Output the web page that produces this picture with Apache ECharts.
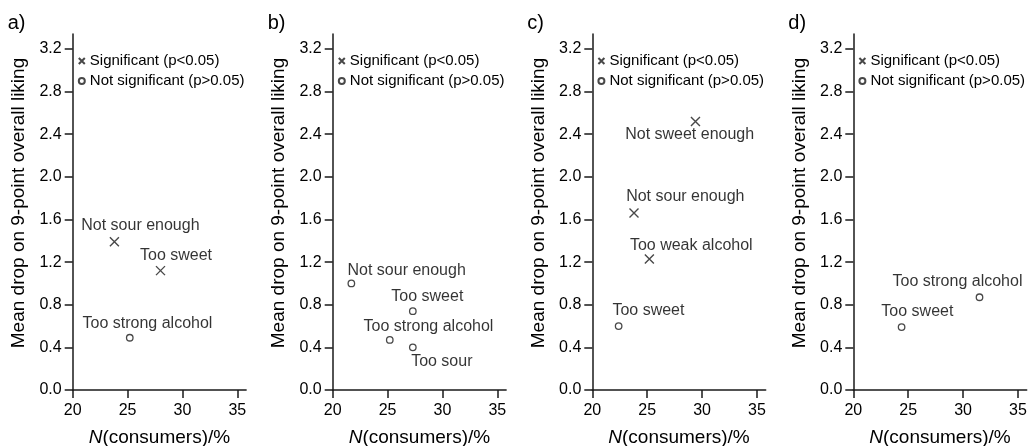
<!DOCTYPE html>
<html>
<head>
<meta charset="utf-8">
<title>Mean drop vs consumers</title>
<script src="https://cdn.jsdelivr.net/npm/echarts@6/dist/echarts.min.js"></script>
<style>
    html,body{margin:0;padding:0;background:#fff;}
    #chart{width:1028px;height:446px;}
</style>
</head>
<body>
<div id="chart"></div>
<script>
// 面板 a)
var aLabels=['Not sour enough','Too sweet','Too strong alcohol'];
var aConsumers=[23.8,28.0,25.2];
var aDrop=[1.39,1.12,0.49];
var aSignificant=[true,true,false];

// 面板 b)
var bLabels=['Not sour enough','Too sweet','Too strong alcohol','Too sour'];
var bConsumers=[21.7,27.3,25.2,27.3];
var bDrop=[1.00,0.74,0.47,0.40];
var bSignificant=[false,false,false,false];

// 面板 c)
var cLabels=['Not sweet enough','Not sour enough','Too weak alcohol','Too sweet'];
var cConsumers=[29.4,23.8,25.2,22.4];
var cDrop=[2.52,1.66,1.23,0.60];
var cSignificant=[true,true,true,false];

// 面板 d)
var dLabels=['Too strong alcohol','Too sweet'];
var dConsumers=[31.5,24.4];
var dDrop=[0.87,0.59];
var dSignificant=[false,false];

var panelTitles=['a)','b)','c)','d)'];
var xTicks=[20,25,30,35];
var yTicks=[0,0.4,0.8,1.2,1.6,2.0,2.4,2.8,3.2];
var sigName='Significant (p<0.05)';
var nsName='Not significant (p>0.05)';

// 标签偏移(px)，只管位置
var labelOffsets=[
    [[26,-16],[15.5,-15],[17.7,-14.4]],
    [[55.3,-12.7],[14.5,-15],[38.7,-13],[29,14.7]],
    [[-5.8,13.3],[51.3,-16],[41.9,-13.6],[29.8,-15.7]],
    [[-22,-15.4],[15.8,-15.7]]
];
var gridLefts=[72.7,332.7,592.3,853.3];

var panels=[
    {labels:aLabels,x:aConsumers,y:aDrop,sig:aSignificant},
    {labels:bLabels,x:bConsumers,y:bDrop,sig:bSignificant},
    {labels:cLabels,x:cConsumers,y:cDrop,sig:cSignificant},
    {labels:dLabels,x:dConsumers,y:dDrop,sig:dSignificant}
];

var ink='#1a1a1a';
var textInk='#000';
var font='"Liberation Sans", Arial, Helvetica, sans-serif';
var crossPath='path://M0,0L10,10M10,0L0,10';

var grid=[],xAxis=[],yAxis=[],series=[],legend=[],title=[];

panels.forEach(function(p,i){
    var left=gridLefts[i];
    // outerBoundsMode关掉，不让v6自动缩网格
    grid.push({left:left,top:34,width:173.4,height:356,containLabel:false,outerBoundsMode:'none'});
    title.push({
        text:panelTitles[i],left:left-65,top:13,padding:0,
        textStyle:{fontSize:20,fontWeight:'normal',color:textInk,fontFamily:font}
    });
    xAxis.push({
        type:'value',gridIndex:i,min:20,max:35.8,
        name:'{i|N}(consumers)/%',nameLocation:'middle',nameGap:38,
        nameTextStyle:{fontSize:19,color:textInk,fontFamily:font,
            rich:{i:{fontSize:19,fontStyle:'italic',color:textInk,fontFamily:font}}},
        axisLine:{show:true,onZero:false,lineStyle:{color:ink,width:1.5}},
        axisTick:{show:true,length:8,customValues:xTicks,lineStyle:{color:ink,width:1.5}},
        axisLabel:{customValues:xTicks,margin:13,fontSize:16,color:textInk,fontFamily:font},
        splitLine:{show:false}
    });
    yAxis.push({
        type:'value',gridIndex:i,min:0,max:3.34,
        name:'Mean drop on 9-point overall liking',nameLocation:'middle',nameGap:44,
        nameTextStyle:{fontSize:19,color:textInk,fontFamily:font,padding:[0,0,0,18]},
        axisLine:{show:true,onZero:false,lineStyle:{color:ink,width:1.5}},
        axisTick:{show:true,length:8,customValues:yTicks,lineStyle:{color:ink,width:1.5}},
        axisLabel:{customValues:yTicks,margin:11,fontSize:16,color:textInk,fontFamily:font,
            formatter:function(v){return v.toFixed(1);}},
        splitLine:{show:false}
    });
    legend.push({
        orient:'vertical',left:left+3.6,top:53.5,padding:0,
        itemWidth:6,itemHeight:6,itemGap:5,selectedMode:false,
        data:[sigName,nsName],
        textStyle:{fontSize:15,color:textInk,fontFamily:font}
    });

    var sigData=[],nsData=[];
    p.labels.forEach(function(name,k){
        var item={
            name:name,value:[p.x[k],p.y[k]],
            label:{offset:labelOffsets[i][k]}
        };
        if(p.sig[k]){sigData.push(item);}else{nsData.push(item);}
    });
    var labelCfg={show:true,position:'inside',align:'center',verticalAlign:'middle',
        formatter:'{b}',fontSize:16,color:textInk,fontFamily:font,
        textBorderWidth:0,textBorderColor:'transparent'};
    series.push({
        name:sigName,type:'scatter',xAxisIndex:i,yAxisIndex:i,
        symbol:crossPath,symbolSize:9,
        itemStyle:{color:'none',borderColor:ink,borderWidth:1.4},
        label:labelCfg,data:sigData
    });
    series.push({
        name:nsName,type:'scatter',xAxisIndex:i,yAxisIndex:i,
        symbol:'circle',symbolSize:6.5,
        itemStyle:{color:'#fff',borderColor:ink,borderWidth:1.3},
        label:labelCfg,data:nsData
    });
});

var myChart=echarts.init(document.getElementById('chart'),null,{renderer:'canvas'});
myChart.setOption({
    animation:false,
    backgroundColor:'#fff',
    textStyle:{fontFamily:font},
    title:title,
    legend:legend,
    grid:grid,
    xAxis:xAxis,
    yAxis:yAxis,
    series:series
});
</script>
</body>
</html>
